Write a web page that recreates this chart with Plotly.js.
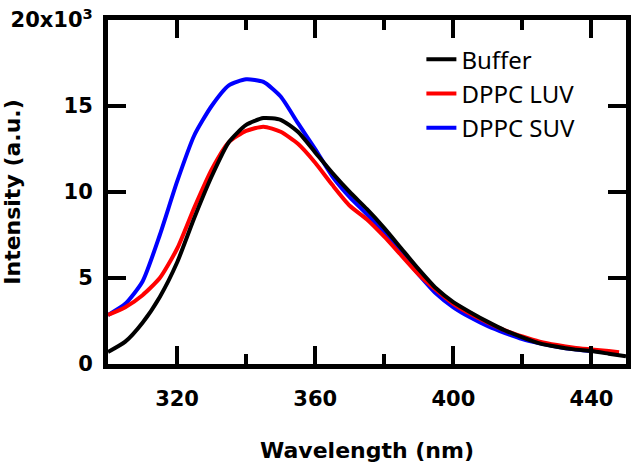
<!DOCTYPE html>
<html>
<head>
<meta charset="utf-8">
<script src="https://cdn.plot.ly/plotly-3.0.1.min.js"></script>
<style>body{margin:0}</style>
</head>
<body>
<div id="tempVis"></div>
<script>
// wavelength grid (nm)
var wavelength = [300, 305, 310, 315, 320, 325, 330, 335, 340, 345, 350, 355, 360, 365, 370,
                  375, 380, 385, 390, 395, 400, 405, 410, 415, 420, 425, 430, 435, 440, 445, 450];
var wavelengthLUV = [300, 305, 310, 315, 320, 325, 330, 335, 340, 345, 350, 355, 360, 365, 370,
                     375, 380, 385, 390, 395, 400, 405, 410, 415, 420, 425, 430, 435, 440, 445, 448];
var wavelengthSUV = [300, 305, 310, 315, 320, 325, 330, 335, 340, 345, 350, 355, 360, 365, 370,
                     375, 380, 385, 390, 395, 400, 405, 410, 415, 420, 425, 430, 435, 440];

// intensities (a.u.)
var buffer = [700, 1300, 2400, 3900, 5900, 8500, 10900, 12900, 13900, 14300, 14200, 13500, 12300, 11100, 10000,
              9000, 7900, 6700, 5500, 4400, 3600, 3000, 2450, 1950, 1550, 1200, 1000, 850, 750, 600, 450];
var dppcLUV = [2850, 3300, 4000, 5000, 6700, 9100, 11300, 12900, 13550, 13800, 13500, 12800, 11700, 10400, 9200,
               8400, 7400, 6300, 5200, 4300, 3500, 2900, 2400, 1950, 1600, 1300, 1100, 950, 850, 750, 680];
var dppcSUV = [2850, 3500, 4800, 7500, 10600, 13300, 15000, 16200, 16550, 16400, 15550, 14000, 12500, 10900, 9700,
               8700, 7600, 6400, 5200, 4100, 3300, 2700, 2200, 1800, 1450, 1200, 1000, 850, 750];

var yTickVals = [0, 5000, 10000, 15000, 20000];
var yTickText = ['0', '5', '10', '15', '20x10<sup>3</sup>'];

function plotSpectra() {
    var trace1 = {
        x: wavelength,
        y: buffer,
        name: 'Buffer',
        mode: 'lines',
        line: {color: '#000000', width: 4, shape: 'spline', smoothing: 0.6}
    };
    var trace2 = {
        x: wavelengthLUV,
        y: dppcLUV,
        name: 'DPPC LUV',
        mode: 'lines',
        line: {color: '#ff0000', width: 4, shape: 'spline', smoothing: 0.6}
    };
    var trace3 = {
        x: wavelengthSUV,
        y: dppcSUV,
        name: 'DPPC SUV',
        mode: 'lines',
        line: {color: '#0000ff', width: 4, shape: 'spline', smoothing: 0.6}
    };
    // invisible copy on a second, label-free axis pair that only carries the tick marks
    var tickCarrier = {
        x: wavelength,
        y: buffer,
        xaxis: 'x2',
        yaxis: 'y2',
        mode: 'lines',
        opacity: 0,
        showlegend: false,
        hoverinfo: 'skip'
    };
    // blue first so black sits on top
    var data = [tickCarrier, trace3, trace2, trace1];

    var bf = {family: 'DejaVu Sans', size: 21, color: '#000', weight: 'bold'};
    var layout = {
        width: 633,
        height: 471,
        margin: {l: 108, r: 7, t: 20, b: 107},
        paper_bgcolor: '#fff',
        plot_bgcolor: '#fff',
        showlegend: true,
        legend: {
            x: 0.605, y: 0.95, xanchor: 'left', yanchor: 'top',
            traceorder: 'reversed',
            font: {family: 'Noto Sans', size: 24, color: '#000'},
            bgcolor: 'rgba(0,0,0,0)'
        },
        xaxis: {
            range: [300, 450],
            dtick: 40,
            ticks: 'inside', ticklen: 18, tickwidth: 4, tickcolor: '#000',
            minor: {dtick: 20, ticks: 'inside', ticklen: 10, tickwidth: 4, tickcolor: '#000'},
            showline: true, linewidth: 5, linecolor: '#000', mirror: 'allticks',
            showgrid: false, zeroline: false,
            tickfont: bf,
            ticklabelstandoff: 12,
            title: {text: 'Wavelength (nm)', font: {family: 'DejaVu Sans', size: 22, color: '#000', weight: 'bold'}, standoff: 34}
        },
        yaxis: {
            range: [0, 20000],
            tickvals: yTickVals,
            ticktext: yTickText,
            ticks: 'inside', ticklen: 18, tickwidth: 4, tickcolor: '#000',
            showline: true, linewidth: 5, linecolor: '#000', mirror: 'allticks',
            showgrid: false, zeroline: false,
            tickfont: bf,
            ticklabelstandoff: 6,
            title: {text: 'Intensity (a.u.)', font: {family: 'DejaVu Sans', size: 22, color: '#000', weight: 'bold'}, standoff: 8}
        },
        xaxis2: {
            overlaying: 'x', anchor: 'y2', side: 'bottom',
            range: [300, 450],
            dtick: 40,
            ticks: 'inside', ticklen: 18, tickwidth: 4, tickcolor: '#000',
            minor: {dtick: 20, ticks: 'inside', ticklen: 10, tickwidth: 4, tickcolor: '#000'},
            showline: true, linewidth: 5, linecolor: '#000', mirror: 'allticks',
            showgrid: false, zeroline: false, showticklabels: false
        },
        yaxis2: {
            overlaying: 'y', anchor: 'x2', side: 'left',
            range: [0, 20000],
            dtick: 5000,
            ticks: 'inside', ticklen: 18, tickwidth: 4, tickcolor: '#000',
            showline: true, linewidth: 5, linecolor: '#000', mirror: 'allticks',
            showgrid: false, zeroline: false, showticklabels: false
        }
    };
    Plotly.newPlot('tempVis', data, layout, {displayModeBar: false});
}
plotSpectra();
</script>
</body>
</html>
